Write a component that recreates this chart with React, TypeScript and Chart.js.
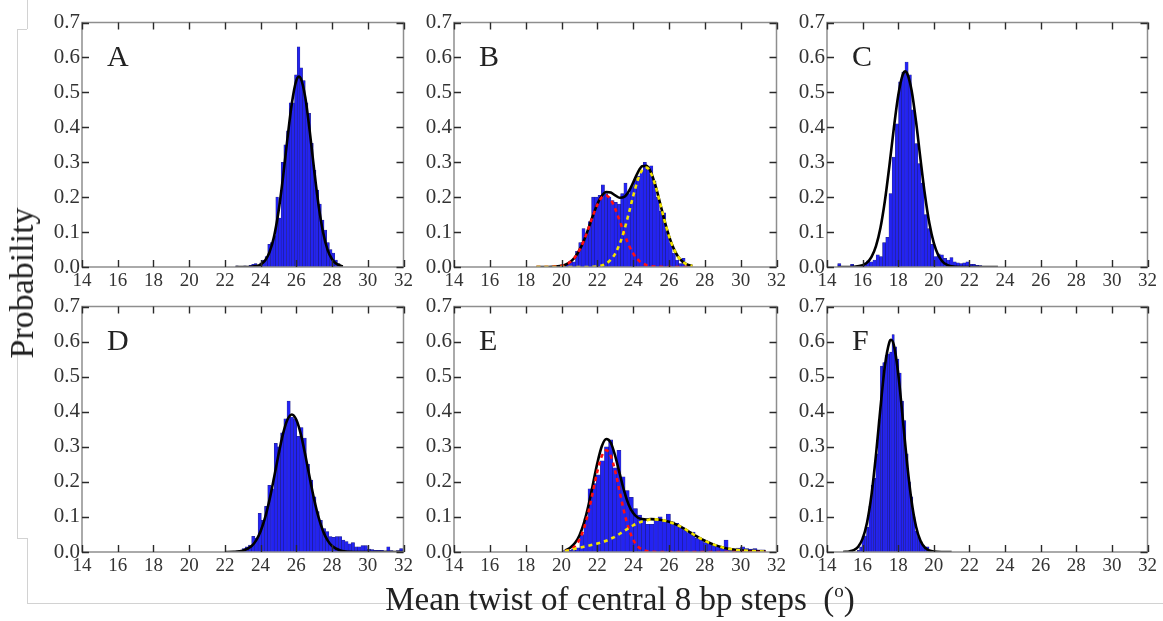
import React, { useEffect, useRef } from 'react';
import { Chart, registerables } from 'chart.js';

Chart.register(...registerables);

// ---------- tick labels ----------
const X_TICKS = [14, 16, 18, 20, 22, 24, 26, 28, 30, 32];
const X_TICK_LABELS = ['14', '16', '18', '20', '22', '24', '26', '28', '30', '32'];
const Y_TICKS = [0, 0.1, 0.2, 0.3, 0.4, 0.5, 0.6, 0.7];
const Y_TICK_LABELS = ['0.0', '0.1', '0.2', '0.3', '0.4', '0.5', '0.6', '0.7'];

const AXIS_TITLE_X = 'Mean twist of central 8 bp steps  (';
const AXIS_TITLE_X_SUP = 'o';
const AXIS_TITLE_X_END = ')';
const AXIS_TITLE_Y = 'Probability';

// ---------- Panel A ----------
const A_BIN_START = 22.6;
const A_BIN_WIDTH = 0.15;
const A_HEIGHTS = [0.003, 0, 0, 0.003, 0, 0.005, 0.008, 0.01, 0.005, 0.012,
  0.02, 0.03, 0.065, 0.07, 0.09, 0.2, 0.14, 0.3, 0.35, 0.39,
  0.47, 0.47, 0.55, 0.63, 0.57, 0.534, 0.47, 0.44, 0.354, 0.277,
  0.22, 0.18, 0.134, 0.106, 0.07, 0.05, 0.04, 0.02, 0.01, 0.003];
const A_FIT_X = [22.6, 23.0, 23.5, 23.75, 24.0, 24.25, 24.5, 24.75, 25.0, 25.25, 25.5, 25.75, 26.0, 26.15, 26.25, 26.5, 26.75, 27.0, 27.25, 27.5, 27.75, 28.0, 28.25, 28.6];
const A_FIT_Y = [0, 0, 0.0007, 0.0025, 0.0071, 0.0183, 0.0425, 0.0866, 0.158, 0.255, 0.367, 0.469, 0.534, 0.545, 0.54, 0.486, 0.389, 0.277, 0.175, 0.099, 0.049, 0.022, 0.009, 0.002];

// ---------- Panel B ----------
const B_BIN_START = 19.7;
const B_BIN_WIDTH = 0.18;
const B_HEIGHTS = [0.002, 0.003, 0.005, 0.01, 0.015, 0.015, 0.045, 0.07, 0.11, 0.095,
  0.13, 0.2, 0.2, 0.205, 0.235, 0.21, 0.2, 0.19, 0.185, 0.18,
  0.21, 0.24, 0.21, 0.23, 0.25, 0.26, 0.275, 0.3, 0.28, 0.29,
  0.245, 0.2, 0.16, 0.155, 0.1, 0.07, 0.04, 0.02, 0.01, 0.025,
  0.003];
const B_FIT_X = [18.6, 19.0, 19.5, 20.0, 20.25, 20.5, 20.75, 21.0, 21.25, 21.5, 21.75, 22.0, 22.25, 22.5, 22.75, 23.0, 23.25, 23.5, 23.75, 24.0, 24.25, 24.5, 24.75, 25.0, 25.25, 25.5, 25.75, 26.0, 26.25, 26.5, 26.75, 27.0, 27.3];
const B_FIT_Y = [0, 0, 0.0005, 0.0032, 0.0072, 0.0148, 0.0277, 0.048, 0.0757, 0.11, 0.1467, 0.1798, 0.2039, 0.2146, 0.2131, 0.2049, 0.1981, 0.2006, 0.2162, 0.2419, 0.2695, 0.2885, 0.2898, 0.2701, 0.2322, 0.1833, 0.1329, 0.0884, 0.054, 0.0302, 0.0156, 0.0073, 0.0026];
const B_RED_Y = [0, 0, 0.0005, 0.0032, 0.0072, 0.0148, 0.0277, 0.048, 0.0757, 0.1098, 0.146, 0.178, 0.1994, 0.2046, 0.1926, 0.1663, 0.1316, 0.0956, 0.0636, 0.0389, 0.0218, 0.0112, 0.0053, 0.0023, 0.001, 0.0003, 0, 0, 0, 0, 0, 0, 0];
const B_YEL_Y = [0, 0, 0, 0, 0, 0, 0, 0, 0, 0.0002, 0.0007, 0.0018, 0.0045, 0.01, 0.0205, 0.0386, 0.0665, 0.105, 0.1526, 0.203, 0.2477, 0.2773, 0.2845, 0.2678, 0.2312, 0.183, 0.1329, 0.0884, 0.054, 0.0302, 0.0156, 0.0073, 0.0026];

// ---------- Panel C ----------
const C_BIN_START = 14.6;
const C_BIN_WIDTH = 0.18;
const C_HEIGHTS = [0.01, 0.002, 0, 0, 0.008, 0.002, 0.001, 0.005, 0.012, 0.018,
  0.015, 0.02, 0.035, 0.03, 0.07, 0.085, 0.21, 0.315, 0.41, 0.53,
  0.558, 0.587, 0.55, 0.45, 0.353, 0.296, 0.24, 0.15, 0.11, 0.065,
  0.03, 0.038, 0.035, 0.025, 0.02, 0.027, 0.015, 0.012, 0.01, 0.012,
  0.015, 0.008, 0.008, 0.005, 0.004, 0.002, 0.001, 0, 0, 0];
const C_FIT_X = [14.6, 15.0, 15.5, 16.0, 16.25, 16.5, 16.75, 17.0, 17.25, 17.5, 17.75, 18.0, 18.25, 18.4, 18.5, 18.75, 19.0, 19.25, 19.5, 19.75, 20.0, 20.25, 20.5, 20.75, 21.0, 21.5, 22.0, 23.6];
const C_FIT_Y = [0, 0, 0.0006, 0.0049, 0.0125, 0.0288, 0.0598, 0.1118, 0.189, 0.288, 0.396, 0.491, 0.55, 0.56, 0.555, 0.506, 0.4166, 0.309, 0.207, 0.125, 0.0683, 0.0336, 0.015, 0.006, 0.0022, 0.0002, 0, 0];

// ---------- Panel D ----------
const D_BIN_START = 22.6;
const D_BIN_WIDTH = 0.18;
const D_HEIGHTS = [0.003, 0.005, 0.01, 0.015, 0.02, 0.045, 0.04, 0.11, 0.09, 0.13,
  0.19, 0.18, 0.31, 0.3, 0.34, 0.38, 0.43, 0.385, 0.38, 0.33,
  0.355, 0.325, 0.25, 0.205, 0.157, 0.115, 0.09, 0.067, 0.058, 0.044,
  0.042, 0.044, 0.044, 0.034, 0.03, 0.023, 0.027, 0.015, 0.015, 0.018,
  0.018, 0.008, 0.007, 0.005, 0.005, 0.005, 0.003, 0.015, 0.004, 0.002,
  0.004, 0.01];
const D_FIT_X = [22.0, 22.5, 23.0, 23.5, 23.75, 24.0, 24.25, 24.5, 24.75, 25.0, 25.25, 25.5, 25.75, 26.0, 26.25, 26.5, 26.75, 27.0, 27.25, 27.5, 27.75, 28.0, 28.5, 29.0, 29.5, 32.0];
const D_FIT_Y = [0.0001, 0.0006, 0.0037, 0.0172, 0.0332, 0.0592, 0.0978, 0.1494, 0.2115, 0.277, 0.336, 0.377, 0.392, 0.377, 0.336, 0.277, 0.2115, 0.1494, 0.0978, 0.0592, 0.0332, 0.0172, 0.0037, 0.0006, 0, 0];

// ---------- Panel E ----------
const E_BIN_START = 20.1;
const E_BIN_WIDTH = 0.23;
const E_HEIGHTS = [0.004, 0.005, 0.008, 0.012, 0.05, 0.095, 0.18, 0.195, 0.22, 0.26,
  0.3, 0.32, 0.24, 0.29, 0.214, 0.175, 0.156, 0.124, 0.105, 0.09,
  0.079, 0.079, 0.093, 0.1, 0.086, 0.108, 0.086, 0.082, 0.072, 0.063,
  0.055, 0.057, 0.039, 0.034, 0.027, 0.023, 0.02, 0.015, 0.015, 0.034,
  0.01, 0.008, 0.011, 0.015, 0.01, 0.008, 0.01, 0.006, 0.006];
const E_FIT_X = [20.2, 20.5, 20.75, 21.0, 21.25, 21.5, 21.75, 22.0, 22.25, 22.5, 22.75, 23.0, 23.25, 23.5, 23.75, 24.0, 24.25, 24.5, 24.75, 25.0, 25.5, 26.0, 26.5, 27.0, 27.5, 28.0, 28.5, 29.0, 29.5, 30.0, 30.5, 31.0, 31.4];
const E_FIT_Y = [0.004, 0.0128, 0.0254, 0.0471, 0.082, 0.1315, 0.192, 0.2534, 0.3015, 0.322, 0.3115, 0.2734, 0.223, 0.1735, 0.135, 0.1111, 0.0984, 0.0938, 0.0925, 0.0938, 0.092, 0.086, 0.076, 0.062, 0.046, 0.032, 0.021, 0.013, 0.008, 0.005, 0.003, 0.002, 0.001];
const E_RED_Y = [0.002, 0.0068, 0.0164, 0.0351, 0.067, 0.1135, 0.171, 0.2294, 0.2735, 0.29, 0.2735, 0.2294, 0.171, 0.1135, 0.067, 0.0351, 0.0164, 0.0068, 0.0025, 0.0008, 0, 0, 0, 0, 0, 0, 0, 0, 0, 0, 0, 0, 0];
const E_YEL_Y = [0.002, 0.006, 0.009, 0.012, 0.015, 0.018, 0.021, 0.024, 0.028, 0.032, 0.038, 0.044, 0.052, 0.06, 0.068, 0.076, 0.082, 0.087, 0.09, 0.093, 0.092, 0.086, 0.076, 0.062, 0.046, 0.032, 0.021, 0.013, 0.008, 0.005, 0.003, 0.002, 0.001];

// ---------- Panel F ----------
const F_BIN_START = 15.7;
const F_BIN_WIDTH = 0.13;
const F_HEIGHTS = [0.005, 0.015, 0.044, 0.046, 0.07, 0.13, 0.19, 0.21, 0.28, 0.376,
  0.53, 0.54, 0.56, 0.565, 0.57, 0.62, 0.585, 0.55, 0.51, 0.43,
  0.375, 0.28, 0.2, 0.157, 0.1, 0.06, 0.044, 0.03, 0.02, 0.015,
  0.015, 0.005, 0.003];
const F_FIT_X = [14.9, 15.25, 15.5, 15.75, 16.0, 16.25, 16.5, 16.75, 17.0, 17.25, 17.5, 17.6, 17.75, 18.0, 18.25, 18.5, 18.75, 19.0, 19.25, 19.5, 19.75, 20.0, 20.5, 21.0];
const F_FIT_Y = [0.0002, 0.0015, 0.0051, 0.015, 0.038, 0.0843, 0.1636, 0.277, 0.41, 0.53, 0.598, 0.605, 0.5905, 0.509, 0.383, 0.252, 0.1448, 0.0727, 0.0319, 0.0122, 0.0041, 0.0012, 0.0001, 0];

type PanelDef = {
  letter: string;
  left: number; top: number; w: number; h: number;
  start: number; bw: number; heights: number[];
  fitX: number[]; fitY: number[]; redY?: number[]; yelY?: number[];
};

const PANELS: PanelDef[] = [
  { letter: 'A', left: 82, top: 22, w: 322, h: 245, start: A_BIN_START, bw: A_BIN_WIDTH, heights: A_HEIGHTS, fitX: A_FIT_X, fitY: A_FIT_Y },
  { letter: 'B', left: 454, top: 22, w: 323, h: 245, start: B_BIN_START, bw: B_BIN_WIDTH, heights: B_HEIGHTS, fitX: B_FIT_X, fitY: B_FIT_Y, redY: B_RED_Y, yelY: B_YEL_Y },
  { letter: 'C', left: 827, top: 22, w: 321, h: 245, start: C_BIN_START, bw: C_BIN_WIDTH, heights: C_HEIGHTS, fitX: C_FIT_X, fitY: C_FIT_Y },
  { letter: 'D', left: 82, top: 306, w: 322, h: 246, start: D_BIN_START, bw: D_BIN_WIDTH, heights: D_HEIGHTS, fitX: D_FIT_X, fitY: D_FIT_Y },
  { letter: 'E', left: 454, top: 306, w: 323, h: 246, start: E_BIN_START, bw: E_BIN_WIDTH, heights: E_HEIGHTS, fitX: E_FIT_X, fitY: E_FIT_Y, redY: E_RED_Y, yelY: E_YEL_Y },
  { letter: 'F', left: 827, top: 306, w: 321, h: 246, start: F_BIN_START, bw: F_BIN_WIDTH, heights: F_HEIGHTS, fitX: F_FIT_X, fitY: F_FIT_Y },
];

const Y_AXIS_W = 50;
const X_AXIS_H = 32;
const PAD_TOP = 12;
const PAD_RIGHT = 14;
const FONT = "'Liberation Serif', 'Times New Roman', serif";

function makeFramePlugin(letter: string) {
  return {
    id: 'frame' + letter,
    afterDraw(chart: any) {
      const { ctx, chartArea: a, scales } = chart;
      ctx.save();
      ctx.strokeStyle = '#8e8e8e';
      ctx.lineWidth = 1.5;
      ctx.strokeRect(a.left, a.top, a.right - a.left, a.bottom - a.top);
      ctx.strokeStyle = '#2a2a2a';
      ctx.lineWidth = 1.4;
      ctx.beginPath();
      X_TICKS.forEach((v) => {
        const x = Math.round(scales.x.getPixelForValue(v)) + 0.5;
        ctx.moveTo(x, a.bottom);
        ctx.lineTo(x, a.bottom - 7);
        ctx.moveTo(x, a.top);
        ctx.lineTo(x, a.top + 7);
      });
      Y_TICKS.forEach((v) => {
        const y = Math.round(scales.y.getPixelForValue(v)) + 0.5;
        ctx.moveTo(a.left, y);
        ctx.lineTo(a.left + 7, y);
        ctx.moveTo(a.right, y);
        ctx.lineTo(a.right - 7, y);
      });
      ctx.stroke();
      ctx.fillStyle = '#222';
      ctx.font = '30px ' + FONT;
      ctx.textBaseline = 'alphabetic';
      ctx.textAlign = 'left';
      ctx.fillText(letter, a.left + 25, a.top + 43);
      ctx.restore();
    },
  };
}

function HistPanel({ p }: { p: PanelDef }) {
  const ref = useRef<HTMLCanvasElement>(null);
  const cw = Y_AXIS_W + p.w + PAD_RIGHT;
  const ch = PAD_TOP + p.h + X_AXIS_H;

  useEffect(() => {
    if (!ref.current) return;
    const bars = p.heights.map((y, i) => ({ x: p.start + (i + 0.5) * p.bw, y }));
    const lineStyle = {
      type: 'line' as const,
      pointRadius: 0,
      fill: false,
      cubicInterpolationMode: 'monotone' as const,
    };
    const datasets: any[] = [];
    if (p.yelY) {
      datasets.push({
        ...lineStyle,
        data: p.fitX.map((x, i) => ({ x, y: p.yelY![i] })),
        borderColor: '#f3e400',
        borderWidth: 2.6,
        borderDash: [4, 4],
        order: 1,
      });
    }
    if (p.redY) {
      datasets.push({
        ...lineStyle,
        data: p.fitX.map((x, i) => ({ x, y: p.redY![i] })),
        borderColor: '#ff1010',
        borderWidth: 2.6,
        borderDash: [4, 4],
        order: 2,
      });
    }
    datasets.push({
      ...lineStyle,
      data: p.fitX.map((x, i) => ({ x, y: p.fitY[i] })),
      borderColor: '#000000',
      borderWidth: 2.6,
      order: 3,
    });
    datasets.push({
      type: 'bar',
      data: bars,
      backgroundColor: '#2323f2',
      borderColor: 'rgba(15,15,110,0.9)',
      borderWidth: 0.5,
      borderSkipped: 'start',
      barPercentage: 1,
      categoryPercentage: 1,
      order: 4,
    });

    const chart = new Chart(ref.current, {
      type: 'bar',
      data: { datasets },
      options: {
        responsive: false,
        maintainAspectRatio: false,
        animation: false,
        events: [],
        layout: { padding: { top: PAD_TOP, right: PAD_RIGHT, left: 0, bottom: 0 } },
        plugins: { legend: { display: false }, tooltip: { enabled: false } },
        scales: {
          x: {
            type: 'linear',
            min: 14,
            max: 32,
            offset: false,
            grid: { display: false, drawTicks: false, offset: false },
            border: { display: false },
            afterBuildTicks: (s: any) => { s.ticks = X_TICKS.map((v) => ({ value: v })); },
            afterFit: (s: any) => { s.height = X_AXIS_H; },
            ticks: {
              autoSkip: false,
              maxRotation: 0,
              padding: 5,
              color: '#333',
              font: { family: FONT, size: 19, lineHeight: 1 },
              callback: (_v: any, i: number) => X_TICK_LABELS[i],
            },
          },
          y: {
            type: 'linear',
            min: 0,
            max: 0.7,
            grid: { display: false, drawTicks: false },
            border: { display: false },
            afterBuildTicks: (s: any) => { s.ticks = Y_TICKS.map((v) => ({ value: v })); },
            afterFit: (s: any) => { s.width = Y_AXIS_W; },
            ticks: {
              autoSkip: false,
              padding: 2,
              color: '#333',
              font: { family: FONT, size: 21, lineHeight: 1 },
              callback: (_v: any, i: number) => Y_TICK_LABELS[i],
            },
          },
        },
      } as any,
      plugins: [makeFramePlugin(p.letter)],
    });
    return () => chart.destroy();
  }, []);

  return (
    <canvas
      ref={ref}
      width={cw}
      height={ch}
      style={{
        position: 'absolute',
        left: p.left - Y_AXIS_W,
        top: p.top - PAD_TOP,
        width: cw,
        height: ch,
        display: 'block',
      }}
    />
  );
}

const LINE = '#d2d2d2';

export default function App() {
  return (
    <div
      style={{
        position: 'absolute',
        left: 0,
        top: 0,
        width: 1163,
        height: 621,
        background: '#ffffff',
        overflow: 'hidden',
        fontFamily: FONT,
      }}
    >
      <div style={{ position: 'absolute', left: 27, top: 0, width: 1, height: 29, background: LINE }} />
      <div style={{ position: 'absolute', left: 17, top: 29, width: 10, height: 1, background: LINE }} />
      <div style={{ position: 'absolute', left: 17, top: 29, width: 1, height: 509, background: LINE }} />
      <div style={{ position: 'absolute', left: 17, top: 538, width: 10, height: 1, background: LINE }} />
      <div style={{ position: 'absolute', left: 27, top: 538, width: 1, height: 65, background: LINE }} />
      <div style={{ position: 'absolute', left: 27, top: 603, width: 1136, height: 1, background: LINE }} />
      {PANELS.map((p) => (
        <HistPanel key={p.letter} p={p} />
      ))}
      <div
        style={{
          position: 'absolute',
          left: 21.5,
          top: 282.5,
          transform: 'translate(-50%, -50%) rotate(-90deg)',
          fontSize: 34,
          lineHeight: 1,
          whiteSpace: 'nowrap',
          color: '#222',
        }}
      >
        {AXIS_TITLE_Y}
      </div>
      <div
        style={{
          position: 'absolute',
          left: 620,
          top: 599,
          transform: 'translate(-50%, -50%)',
          fontSize: 33,
          lineHeight: 1,
          whiteSpace: 'pre',
          color: '#222',
        }}
      >
        {AXIS_TITLE_X}
        <span style={{ fontSize: 19, position: 'relative', top: -13 }}>{AXIS_TITLE_X_SUP}</span>
        {AXIS_TITLE_X_END}
      </div>
    </div>
  );
}
